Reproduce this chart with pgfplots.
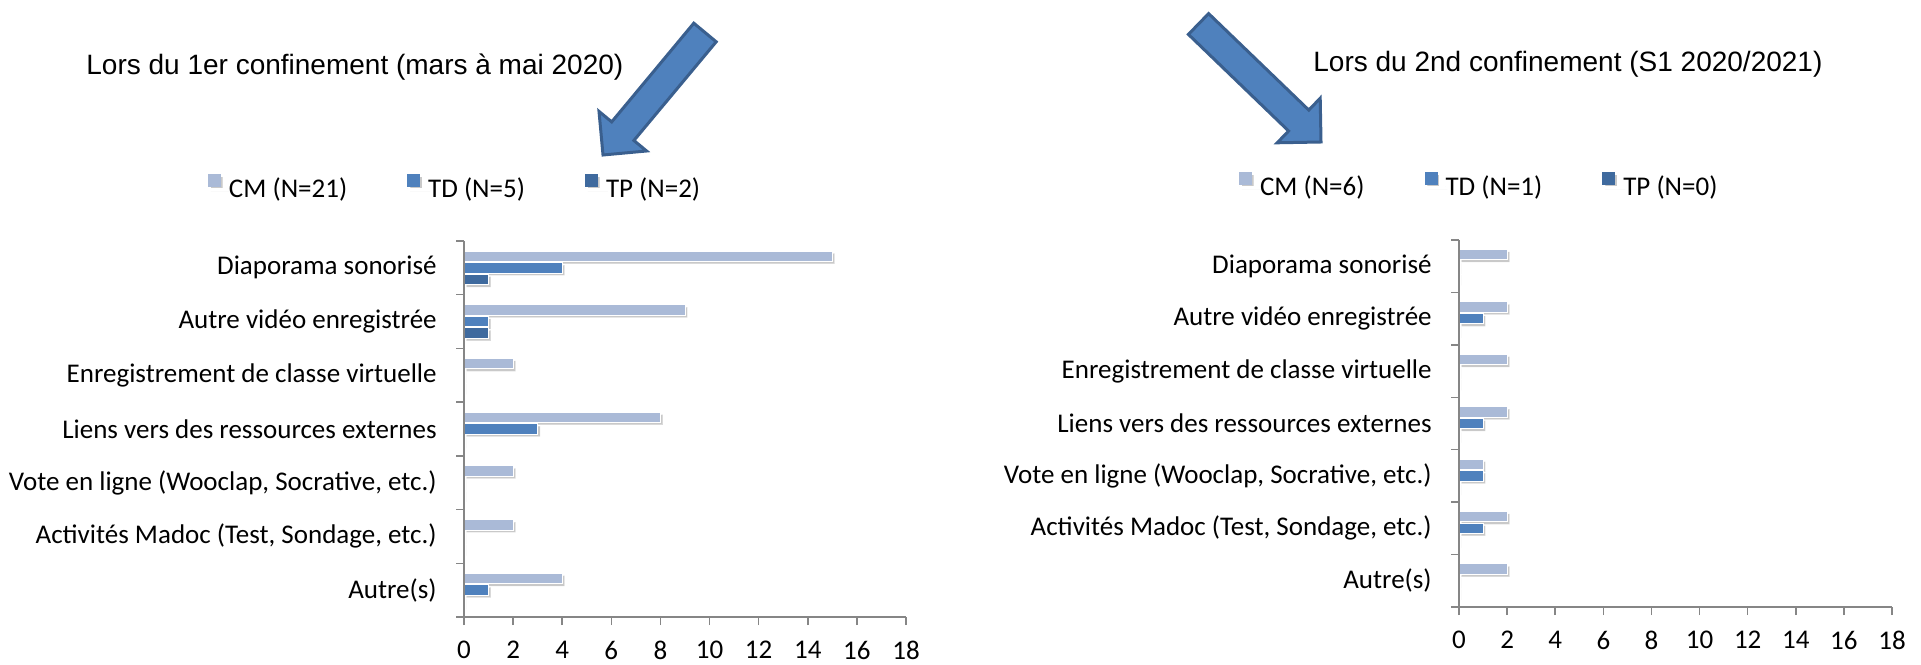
\documentclass[border=0pt]{standalone}
\usepackage{pgfplots}
\pgfplotsset{compat=1.18}
\usepackage{fontspec}
\setmainfont{Carlito}
\newfontfamily\arialfont{Liberation Sans}
\usetikzlibrary{shadows}
\definecolor{cCM}{HTML}{AABAD7}
\definecolor{cTD}{HTML}{4F81BD}
\definecolor{cTP}{HTML}{3F6A9E}
\definecolor{axgray}{HTML}{868686}
\definecolor{arrowfill}{HTML}{4F81BD}
\definecolor{arrowdraw}{HTML}{3A5F8E}

\pgfplotsset{
  chartbase/.style={
    xbar, bar width=5.2pt,
    axis on top, scale only axis,
    anchor=south west,
    xmin=0, xmax=18, xtick={0,2,...,18},
    ymin=-0.5, ymax=6.5,
    ytick={-0.5,0.5,...,6.5}, yticklabels={},
    extra y ticks={0,1,2,3,4,5,6},
    extra y tick labels={Autre(s),{Activités Madoc (Test, Sondage, etc.)},{Vote en ligne (Wooclap, Socrative, etc.)},Liens vers des ressources externes,Enregistrement de classe virtuelle,Autre vidéo enregistrée,Diaporama sonorisé},
    extra y tick style={tick style={draw=none}},
    axis lines=left,
    axis line style={-, draw=axgray, line width=0.75pt},
    tick style={draw=axgray, line width=0.75pt},
    tick align=outside, major tick length=4pt,
    tick label style={font=\fontsize{13.5}{15}\selectfont},
    /pgf/number format/assume math mode=true,
    xticklabel style={inner sep=0pt, anchor=north, yshift=-8pt},
    yticklabel style={inner sep=0pt, anchor=east, xshift=-9.5pt},
    legend columns=3,
    legend style={draw=none, fill=none, inner sep=0pt, outer sep=0pt, anchor=west,
      font=\fontsize{13.5}{15}\selectfont,
      /tikz/every even column/.append style={column sep=30pt},
      nodes={inner sep=0pt}},
    legend cell align=left,
    every axis plot/.append style={draw=white, line width=0.5pt},
  },
  shad/.style={drop shadow={shadow xshift=1.2pt, shadow yshift=-1.2pt, opacity=0.3, fill=black!70}},
  legCM/.style={legend image code/.code={\fill[cCM] (0pt,1.3pt) rectangle (6pt,7.3pt); \path (0pt,0pt) -- (10pt,0pt);}},
  legTD/.style={legend image code/.code={\fill[cTD] (0pt,1.3pt) rectangle (6pt,7.3pt); \path (0pt,0pt) -- (10pt,0pt);}},
  legTP/.style={legend image code/.code={\fill[cTP] (0pt,1.3pt) rectangle (6pt,7.3pt); \path (0pt,0pt) -- (10pt,0pt);}},
}

\begin{document}
\begin{tikzpicture}
\useasboundingbox (0,0) rectangle (960.5pt,332pt);

% left chart
\begin{axis}[chartbase, at={(232pt,23.5pt)}, width=221pt, height=188pt,
  legend style={at={(-0.5792,1.1436)}}]
\addplot[fill=cCM, shad, bar shift=5.8pt, legCM] coordinates {(15,6) (9,5) (2,4) (8,3) (2,2) (2,1) (4,0)};
\addlegendentry{CM (N=21)}
\addplot[fill=cTD, shad, bar shift=0pt, legTD] coordinates {(4,6) (1,5) (0,4) (3,3) (0,2) (0,1) (1,0)};
\addlegendentry{TD (N=5)}
\addplot[fill=cTP, shad, bar shift=-5.8pt, legTP] coordinates {(1,6) (1,5) (0,4) (0,3) (0,2) (0,1) (0,0)};
\addlegendentry{TP (N=2)}
\end{axis}

% right chart
\begin{axis}[chartbase, at={(729.5pt,28.5pt)}, width=216.5pt, height=183.5pt,
  legend style={at={(-0.5081,1.1499)}}]
\addplot[fill=cCM, shad, bar shift=5.8pt, legCM] coordinates {(2,6) (2,5) (2,4) (2,3) (1,2) (2,1) (2,0)};
\addlegendentry{CM (N=6)}
\addplot[fill=cTD, shad, bar shift=0pt, legTD] coordinates {(0,6) (1,5) (0,4) (1,3) (1,2) (1,1) (0,0)};
\addlegendentry{TD (N=1)}
\addplot[fill=cTP, shad, bar shift=-5.8pt, legTP] coordinates {(0,6) (0,5) (0,4) (0,3) (0,2) (0,1) (0,0)};
\addlegendentry{TP (N=0)}
\end{axis}

% titles
\node[anchor=base west, inner sep=0pt, font=\arialfont\fontsize{14}{16}\selectfont] at (43pt,294.5pt) {Lors du 1er confinement (mars à mai 2020)};
\node[anchor=base west, inner sep=0pt, font=\arialfont\fontsize{14}{16}\selectfont] at (656.5pt,296pt) {Lors du 2nd confinement (S1 2020/2021)};

% arrows (pixel coordinates)
\begin{scope}[shift={(0pt,332pt)}, x=0.5pt, y=-0.5pt]
\filldraw[fill=arrowfill, draw=arrowdraw, line width=1.5pt, line join=miter]
  (693.8,23.2) -- (611.7,121.9) -- (599.0,111.4) -- (603,155) -- (646.6,151.0) -- (633.9,140.5) -- (716.2,41.8) -- cycle;
\filldraw[fill=arrowfill, draw=arrowdraw, line width=1.5pt, line join=miter]
  (1188.4,34.4) -- (1288.6,131.0) -- (1277.2,142.8) -- (1321,142) -- (1320.2,98.2) -- (1308.8,110.1) -- (1208.6,13.6) -- cycle;
\end{scope}
\end{tikzpicture}
\end{document}
